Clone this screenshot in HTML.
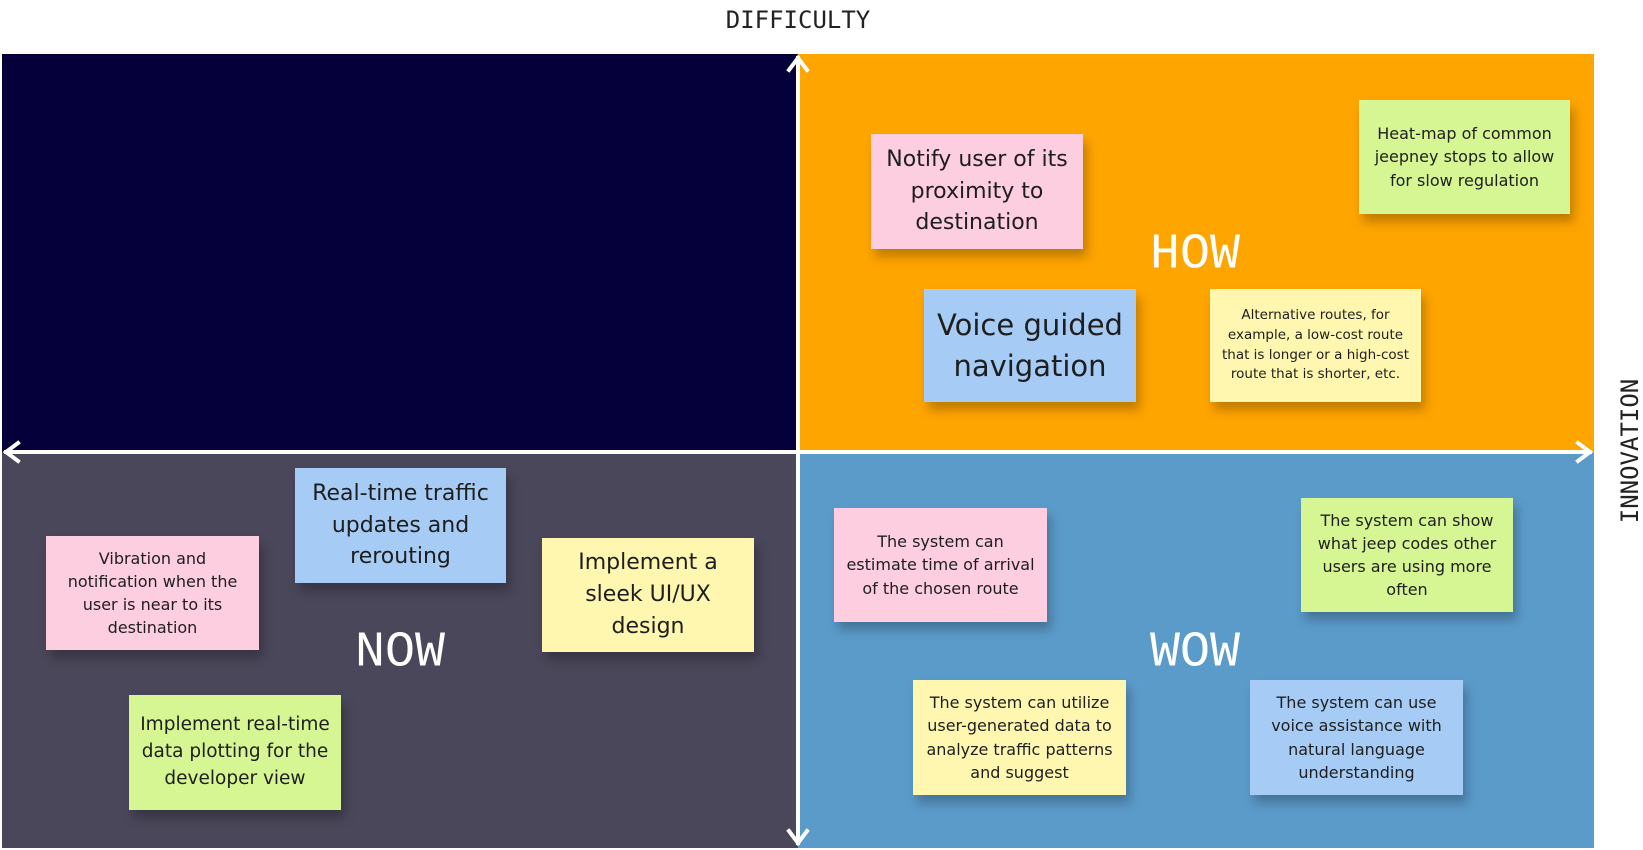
<!DOCTYPE html>
<html><head><meta charset="utf-8"><style>
*{margin:0;padding:0;box-sizing:border-box}
body{width:1643px;height:850px;background:#fff;position:relative;overflow:hidden;font-family:"Liberation Sans",sans-serif}
.q{position:absolute}
.lab{position:absolute;font-family:"Liberation Mono","DejaVu Sans Mono",monospace;color:#fff;font-size:50px;transform:translate(-50%,-50%);white-space:nowrap}
.ax{position:absolute;font-family:"DejaVu Sans Mono","Liberation Mono",monospace;color:#222;font-size:24px;white-space:nowrap}
.n{position:absolute;display:flex;align-items:center;justify-content:center;text-align:center;color:#1e1e1e;padding:6px 10px;box-shadow:4px 8px 10px rgba(0,0,0,.25);line-height:1.45;font-family:"DejaVu Sans",sans-serif}
.pk{background:#fdcde0}.gr{background:#d5f692}.bl{background:#a6ccf5}.ye{background:#fff6b0}
</style></head><body>
<div class="q" style="left:2px;top:54px;width:796px;height:398px;background:#06003a"></div>
<div class="q" style="left:798px;top:54px;width:796px;height:398px;background:#ffa500"></div>
<div class="q" style="left:2px;top:452px;width:796px;height:396px;background:#4a475a"></div>
<div class="q" style="left:798px;top:452px;width:796px;height:396px;background:#5b9bca"></div>
<svg style="position:absolute;left:0;top:0" width="1643" height="850">
<g stroke="#fff" stroke-width="4" fill="none" stroke-linecap="square">
<line x1="798" y1="58" x2="798" y2="843"/>
<line x1="6" y1="452" x2="1590" y2="452"/>
<polyline points="789,70 798,58 807,70"/>
<polyline points="789,831 798,843 807,831"/>
<polyline points="18,443 6,452 18,461"/>
<polyline points="1578,443 1590,452 1578,461"/>
</g></svg>
<div class="ax" style="left:798px;top:20px;transform:translate(-50%,-50%)">DIFFICULTY</div>
<div class="ax" style="left:1630px;top:451px;transform:translate(-50%,-50%) rotate(-90deg)">INNOVATION</div>
<div class="lab" style="left:1195px;top:255px">HOW</div>
<div class="lab" style="left:400px;top:653px">NOW</div>
<div class="lab" style="left:1195px;top:653px">WOW</div>

<div class="n pk" style="left:871px;top:134px;width:212px;height:115px;font-size:22px">Notify user of its proximity to destination</div>
<div class="n gr" style="left:1359px;top:100px;width:211px;height:114px;font-size:16px">Heat-map of common jeepney stops to allow for slow regulation</div>
<div class="n bl" style="left:924px;top:289px;width:212px;height:113px;font-size:29px;line-height:1.4;padding:4px 2px">Voice guided navigation</div>
<div class="n ye" style="left:1210px;top:289px;width:211px;height:113px;font-size:13.5px">Alternative routes, for example, a low-cost route that is longer or a high-cost route that is shorter, etc.</div>
<div class="n bl" style="left:295px;top:468px;width:211px;height:115px;font-size:22px">Real-time traffic updates and rerouting</div>
<div class="n pk" style="left:46px;top:536px;width:213px;height:114px;font-size:16px">Vibration and notification when the user is near to its destination</div>
<div class="n ye" style="left:542px;top:538px;width:212px;height:114px;font-size:22px">Implement a sleek UI/UX design</div>
<div class="n gr" style="left:129px;top:695px;width:212px;height:115px;font-size:18.5px;padding:4px 3px">Implement real-time data plotting for the developer view</div>
<div class="n pk" style="left:834px;top:508px;width:213px;height:114px;font-size:16px">The system can estimate time of arrival of the chosen route</div>
<div class="n gr" style="left:1301px;top:498px;width:212px;height:114px;font-size:16px">The system can show what jeep codes other users are using more often</div>
<div class="n ye" style="left:913px;top:680px;width:213px;height:115px;font-size:16px">The system can utilize user-generated data to analyze traffic patterns and suggest</div>
<div class="n bl" style="left:1250px;top:680px;width:213px;height:115px;font-size:16px">The system can use voice assistance with natural language understanding</div>
</body></html>
